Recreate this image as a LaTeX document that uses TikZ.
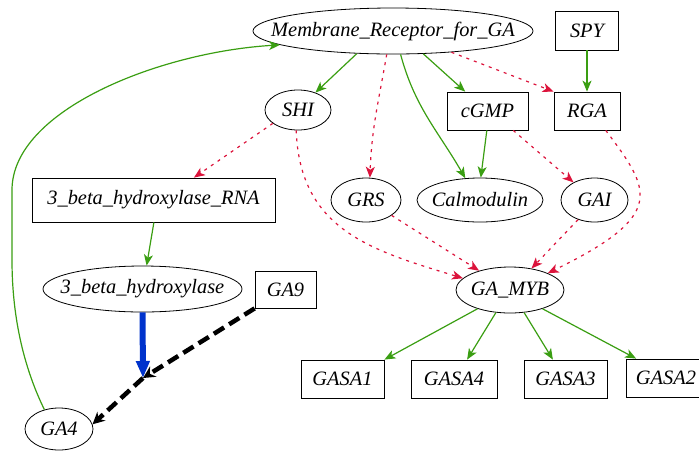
\documentclass[tikz,border=0pt]{standalone}
\usepackage{fontspec}
\setmainfont{Liberation Serif}
\usetikzlibrary{arrows.meta,shapes.geometric}
\definecolor{grn}{RGB}{58,158,18}
\definecolor{crim}{RGB}{220,20,60}
\definecolor{blu}{RGB}{0,51,204}
\newcommand{\zw}[1]{\makebox[0pt]{#1}}
\begin{document}
\begin{tikzpicture}[x=1pt,y=1pt,
 every node/.style={font=\fontsize{20.4}{23}\selectfont\itshape, inner sep=0pt},
 ell/.style={draw, ellipse, line width=0.8pt},
 box/.style={draw, rectangle, line width=0.8pt},
 gr/.style={draw=grn, line width=1.2pt, -{Stealth[length=11pt,width=9pt,inset=3pt]}},
 rd/.style={draw=crim, line width=1.2pt, dash pattern=on 3pt off 5pt, -{Stealth[length=11pt,width=9pt,inset=3pt]}},
 bl/.style={draw=blu, line width=6pt, -{Triangle[length=17pt,width=13pt]}},
 bk/.style={draw=black, line width=4.5pt, dash pattern=on 12pt off 6pt, -{Stealth[length=12pt,width=12pt,inset=4pt]}}
]
\useasboundingbox (0,0) rectangle (699,-451);
\node[ell, minimum width=280pt, minimum height=46pt] (mem) at (393,-31) {\zw{Membrane\_Receptor\_for\_GA}};
\node[box, minimum width=63pt, minimum height=39pt] (spy) at (587,-30.5) {SPY};
\node[ell, minimum width=66pt, minimum height=40pt] (shi) at (298,-110) {\zw{SHI}};
\node[box, minimum width=81pt, minimum height=38pt] (cgmp) at (487.5,-111) {cGMP};
\node[box, minimum width=66pt, minimum height=38pt] (rga) at (587,-111) {RGA};
\node[box, minimum width=243pt, minimum height=44pt] (rna) at (153.5,-200) {3\_beta\_hydroxylase\_RNA};
\node[ell, minimum width=70pt, minimum height=44pt] (grs) at (366,-200) {\zw{GRS}};
\node[ell, minimum width=126pt, minimum height=44pt] (calm) at (480,-200) {\zw{Calmodulin}};
\node[ell, minimum width=67pt, minimum height=44pt] (gai) at (594.5,-200) {\zw{GAI}};
\node[ell, minimum width=199pt, minimum height=46pt] (bh) at (142.5,-289) {\zw{3\_beta\_hydroxylase}};
\node[box, minimum width=61pt, minimum height=37pt] (ga9) at (285.5,-289.5) {GA9};
\node[ell, minimum width=108pt, minimum height=46pt] (gamyb) at (510,-290) {\zw{GA\_MYB}};
\node[box, minimum width=83pt, minimum height=38pt] (gasa1) at (342.5,-379) {GASA1};
\node[box, minimum width=86pt, minimum height=38pt] (gasa4) at (454,-379) {GASA4};
\node[box, minimum width=83pt, minimum height=38pt] (gasa3) at (565.5,-379) {GASA3};
\node[box, minimum width=80pt, minimum height=38pt] (gasa2) at (666,-378) {GASA2};
\node[ell, minimum width=68pt, minimum height=42pt] (ga4) at (59,-429) {\zw{GA4}};
\coordinate (j) at (143,-378);

\draw[gr] (mem.212) -- (shi.45);
\draw[gr] (mem.-37) -- (cgmp.139);
\draw[rd] (mem.-20) -- (rga.north west);
\draw[rd] (mem.-105) to[out=-100,in=88] (grs.80);
\draw[gr] (mem.-72) to[out=-75,in=120] (calm.124);
\draw[gr] (cgmp.-92) -- (calm.88);
\draw[rd] (cgmp.-37) -- (gai.140);
\draw[gr] (spy) -- (rga);
\draw[rd] (rga.-46) .. controls +(-53:75pt) and +(26:133pt) .. (gamyb.24);
\draw[rd] (shi.208) -- (rna.29);
\draw[rd] (shi.-95) .. controls +(-88:100pt) and +(163:95pt) .. (gamyb.166);
\draw[rd] (grs.-31.5) -- (gamyb.148);
\draw[rd] (gai.230) -- (gamyb.45);
\draw[gr] (rna.-89) -- (bh.80);
\draw[gr] (gamyb.210) -- (gasa1.north east);
\draw[gr] (gamyb.-122) -- (gasa4.56);
\draw[gr] (gamyb.-58) -- (gasa3.123);
\draw[gr] (gamyb.-30) -- (gasa2.147);
\draw[bl] (bh.south) -- (j);
\draw[bk] (ga9.south west) -- (j);
\draw[bk] (j) -- (ga4.8);
\draw[gr] (ga4.127) .. controls (25,-370) and (12,-320) .. (12,-260) -- (12,-190) .. controls (12,-110) and (160,-52) .. (mem.187);
\end{tikzpicture}
\end{document}
